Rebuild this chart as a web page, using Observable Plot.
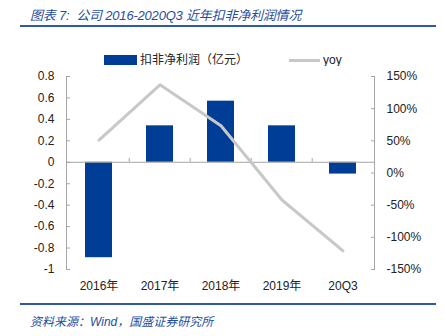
<!DOCTYPE html>
<html><head><meta charset="utf-8">
<script src="https://cdn.jsdelivr.net/npm/d3@7"></script>
<script src="https://cdn.jsdelivr.net/npm/@observablehq/plot@0.6"></script>
<style>
body{margin:0;width:444px;height:336px;position:relative;background:#fff;overflow:hidden;font-family:"Liberation Sans","Noto Sans CJK SC",sans-serif;}
.title{position:absolute;left:30px;top:5px;font-size:13px;font-style:italic;color:#1f4e9c;font-family:"Liberation Sans","Noto Sans CJK SC",sans-serif;white-space:nowrap;letter-spacing:-0.2px;}
.rule{position:absolute;left:20px;width:416px;height:2px;background:#2e5aa8;}
.legend{position:absolute;top:52px;left:0;width:444px;height:16px;font-size:12px;color:#222;}
.sw{position:absolute;}
.lt{position:absolute;top:0;line-height:16px;white-space:nowrap;}
.caption{position:absolute;left:30px;top:312px;font-size:12px;font-style:italic;color:#1f4e9c;white-space:nowrap;}
#chart{position:absolute;left:0;top:66px;}
</style></head>
<body>
<div class="title">图表 7:&nbsp; 公司 2016-2020Q3 近年扣非净利润情况</div>
<div class="rule" style="top:25px"></div>
<div class="legend">
  <div class="sw" style="left:104px;top:3px;width:33px;height:10px;background:#003d96"></div>
  <div class="lt" style="left:140px">扣非净利润（亿元）</div>
  <div class="sw" style="left:289px;top:7px;width:31px;height:3px;background:#c8c8c8"></div>
  <div class="lt" style="left:323px">yoy</div>
</div>
<div id="chart"></div>
<div class="rule" style="top:303px"></div>
<div class="caption">资料来源：Wind，国盛证券研究所</div>
<script>
const categories = ["2016年", "2017年", "2018年", "2019年", "20Q3"];
const profit = [-0.89, 0.34, 0.57, 0.34, -0.11];
const yoy = [51, 137, 73.5, -42, -121];
const leftTicks = [-1, -0.8, -0.6, -0.4, -0.2, 0, 0.2, 0.4, 0.6, 0.8];
const rightTicks = [-150, -100, -50, 0, 50, 100, 150];

const W = 444, H = 234, mL = 66, mR = 70, mT = 10, mB = 31;
const yMin = -1, yMax = 0.8, rMin = -150, rMax = 150;
const toLeft = v => yMin + (v - rMin) * (yMax - yMin) / (rMax - rMin);
const toRight = v => rMin + (v - yMin) * (rMax - rMin) / (yMax - yMin);

const data = categories.map((c, i) => ({cat: c, profit: profit[i], yoy: yoy[i]}));
const step = (W - mL - mR) / categories.length;
const axisColor = "#a6a6a6";

const chart = Plot.plot({
  width: W, height: H,
  marginLeft: mL, marginRight: mR, marginTop: mT, marginBottom: mB,
  style: {fontFamily: '"Liberation Sans","Noto Sans CJK SC",sans-serif', fontSize: "12px", color: "#222", background: "white"},
  x: {type: "band", domain: categories, paddingInner: 0.56, paddingOuter: 0.28, axis: null},
  y: {domain: [yMin, yMax], axis: null},
  marks: [
    Plot.barY(data, {x: "cat", y: "profit", fill: "#003d96"}),
    Plot.ruleY([0], {stroke: axisColor, strokeWidth: 1}),
    Plot.ruleX(categories.slice(1), {x: d => d, y1: 0, y2: 0.035, dx: -step / 2, stroke: axisColor}),
    Plot.line(data, {x: "cat", y: d => toLeft(d.yoy), stroke: "#c8c8c8", strokeWidth: 3}),
    Plot.frame({anchor: "left", stroke: axisColor}),
    Plot.frame({anchor: "right", stroke: axisColor}),
    Plot.axisY({anchor: "left", label: null, ticks: leftTicks, tickFormat: d => String(d), tickSize: -4, tickPadding: 16, stroke: axisColor, fill: "#222", fontSize: 12}),
    Plot.axisY({anchor: "right", label: null, ticks: rightTicks.map(toLeft), tickFormat: d => Math.round(toRight(d)) + "%", tickSize: -4, tickPadding: 16, stroke: axisColor, fill: "#222", fontSize: 12}),
    Plot.axisX({anchor: "bottom", label: null, tickSize: 0, tickPadding: 12, fill: "#222", fontSize: 12})
  ]
});
document.getElementById("chart").appendChild(chart);
</script>
</body></html>
